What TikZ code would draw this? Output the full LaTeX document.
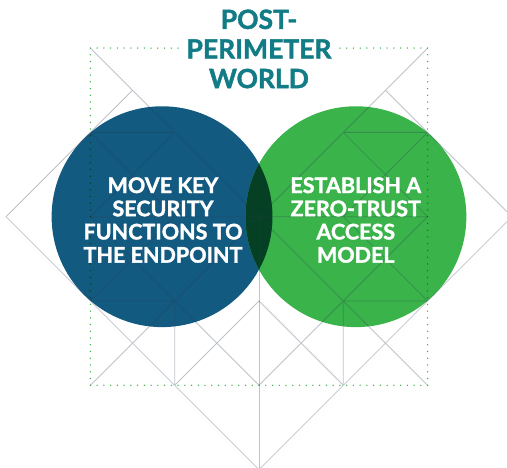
\documentclass[tikz,border=0pt]{standalone}
\usepackage{fontspec}
\setmainfont{Lato}[BoldFeatures={FakeBold=1.6}]
\definecolor{blueC}{RGB}{19,90,129}
\definecolor{greenC}{RGB}{57,179,74}
\definecolor{lensC}{RGB}{5,64,37}
\definecolor{titleC}{RGB}{17,124,134}
\definecolor{gridC}{RGB}{40,60,80}

\begin{document}
\begin{tikzpicture}[x=84.3pt,y=84.3pt,
  guide/.style={draw=gridC,draw opacity=0.3,line width=0.8pt},
  perimeter/.style={draw=greenC,line width=1.5pt,line cap=round,dash pattern=on 0pt off 6.744pt},
  circletext/.style={text=white,font=\bfseries\fontsize{21.5}{23.2}\selectfont,align=center}]
\useasboundingbox (-259pt,-251.3pt) rectangle (248pt,216.7pt);

% the two circles and their overlap
\fill[blueC] (-1.15,0) circle (1.31);
\fill[greenC] (1.15,0) circle (1.31);
\begin{scope}
\clip (-1.15,0) circle (1.31);
\fill[lensC] (1.15,0) circle (1.31);
\end{scope}

% guide lines
\draw[guide] (0,0) -- (0,-3);
\foreach \s in {-1,1} {
  \draw[guide,xscale=\s]
    (2,2) -- (0,0) -- (2,-2)
    (1.5,1.5) -- (3,0) -- (0,-3)
    (2,1) -- (1,0) -- (2,-1)
    (1,1) -- (2,0) -- (1,-1) -- (0,-2)
    (0,-1) -- (1,-2)
    (1,1) -- (2,1)
    (0,0) -- (2,0)
    (1,-1) -- (2,-1)
    (1,-1) -- (1,-2);
}

% dotted square
\begin{scope}[blend mode=multiply]
\draw[perimeter] (-2,-2) rectangle (2,2);
\end{scope}

\node[fill=white,inner xsep=7pt,inner ysep=0pt,text=titleC,align=center,
  font=\bfseries\fontsize{26.5}{29.6}\selectfont] (title) at (0,1.99) {POST-\\PERIMETER\\WORLD};

\node[circletext] (move) at (-1.139,-0.04) {MOVE KEY\\SECURITY\\FUNCTIONS TO\\THE ENDPOINT};
\node[circletext] (trust) at (1.148,-0.04) {ESTABLISH A\\ZERO-TRUST\\ACCESS\\MODEL};
\end{tikzpicture}
\end{document}
